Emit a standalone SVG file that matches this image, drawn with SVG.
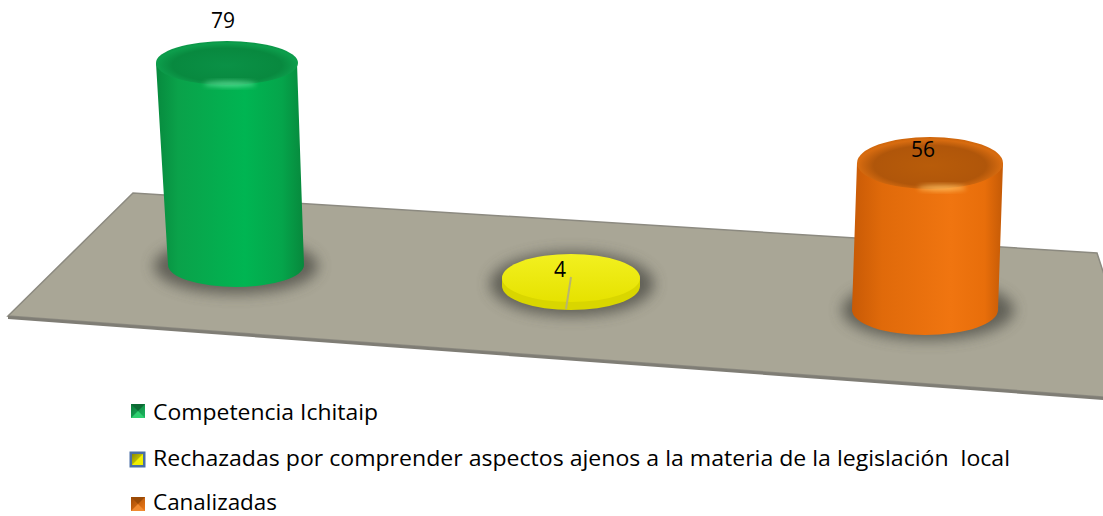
<svg xmlns="http://www.w3.org/2000/svg" width="1103" height="516" viewBox="0 0 1103 516">
<style>
.lbl{font-family:"Open Sans","Liberation Sans",sans-serif;font-size:21px;fill:#000}
.val{font-family:"Open Sans","Liberation Sans",sans-serif;font-size:21px;fill:#000;text-anchor:middle}
</style>
<defs>
<filter id="blur" x="-50%" y="-50%" width="200%" height="200%"><feGaussianBlur stdDeviation="7"/></filter>
<filter id="soft" x="-50%" y="-50%" width="200%" height="200%"><feGaussianBlur stdDeviation="2.5"/></filter>
<linearGradient id="gBody" x1="0" y1="0" x2="1" y2="0">
<stop offset="0" stop-color="#078a3e"/><stop offset="0.15" stop-color="#0aa24a"/><stop offset="0.6" stop-color="#00b552"/><stop offset="0.85" stop-color="#05a54b"/><stop offset="1" stop-color="#07883c"/>
</linearGradient>
<radialGradient id="gTop" cx="0.5" cy="0.55" r="0.55">
<stop offset="0" stop-color="#0a9146"/><stop offset="0.7" stop-color="#08893f"/><stop offset="0.9" stop-color="#0d9e4c"/><stop offset="1" stop-color="#0a9446"/>
</radialGradient>
<linearGradient id="oBody" x1="0" y1="0" x2="1" y2="0">
<stop offset="0" stop-color="#c85a06"/><stop offset="0.2" stop-color="#e06a0a"/><stop offset="0.65" stop-color="#f07510"/><stop offset="0.88" stop-color="#e86e0a"/><stop offset="1" stop-color="#c45a06"/>
</linearGradient>
<radialGradient id="oTop" cx="0.5" cy="0.55" r="0.55">
<stop offset="0" stop-color="#b85c0a"/><stop offset="0.7" stop-color="#b0560a"/><stop offset="0.9" stop-color="#d86c10"/><stop offset="1" stop-color="#cc640a"/>
</radialGradient>
<linearGradient id="yTop" x1="0" y1="0" x2="0" y2="1">
<stop offset="0" stop-color="#f2f020"/><stop offset="1" stop-color="#e6e200"/>
</linearGradient>
<linearGradient id="legG" x1="0" y1="0" x2="1" y2="1"><stop offset="0" stop-color="#0b7a3a"/><stop offset="1" stop-color="#1cb860"/></linearGradient>
<linearGradient id="legY" x1="0" y1="0" x2="1" y2="1"><stop offset="0" stop-color="#8a8a00"/><stop offset="1" stop-color="#f0f000"/></linearGradient>
<linearGradient id="legO" x1="0" y1="0" x2="1" y2="1"><stop offset="0" stop-color="#a04a05"/><stop offset="1" stop-color="#f07a18"/></linearGradient>
</defs>

<g id="floor">
<polygon points="8,316 133,193 1097,253 1145,400 8,316" fill="#a9a696" stroke="#8c8a80" stroke-width="1.5"/>
<polygon points="8,316 1145,400 1145,403 8,319" fill="#7f7d75"/>
</g>

<g id="shadows" filter="url(#blur)" fill="#4a4842" opacity="0.75">
<ellipse cx="236" cy="266" rx="82" ry="28"/>
<ellipse cx="572" cy="284" rx="82" ry="32"/>
<ellipse cx="928" cy="310" rx="86" ry="30"/>
</g>

<g id="bar-competencia">
<path d="M156,63 L168,265 A68,22 0 0 0 304,265 L297,63 Z" fill="url(#gBody)"/>
<ellipse cx="227" cy="63" rx="71" ry="22" fill="url(#gTop)"/>
<ellipse cx="230" cy="84" rx="26" ry="3" fill="#5fe39a" opacity="0.8" filter="url(#soft)"/>
<text class="val" x="223" y="28">79</text>
</g>

<g id="bar-rechazadas">
<path d="M502,278 L502,286 A69,24 0 0 0 640,286 L640,278 Z" fill="#d9d600"/>
<ellipse cx="571" cy="278" rx="69" ry="24" fill="url(#yTop)"/>
<path d="M571,277 L566,309" stroke="#b8b470" stroke-width="2"/>
<text class="val" x="560" y="277">4</text>
</g>

<g id="bar-canalizadas">
<path d="M857,163 L852,310 A73,25 0 0 0 998,310 L1003,163 Z" fill="url(#oBody)"/>
<ellipse cx="930" cy="163" rx="73" ry="26" fill="url(#oTop)"/>
<ellipse cx="942" cy="188" rx="24" ry="3" fill="#ffc060" opacity="0.85" filter="url(#soft)"/>
<text class="val" x="923" y="157">56</text>
</g>

<g id="legend">
<g id="leg-competencia">
<rect x="131" y="404" width="14" height="14" fill="url(#legG)"/>
<polygon points="131,404 145,404 138,411" fill="#0d6a34"/>
<polygon points="131,418 145,418 138,411" fill="#2fd070"/>
<text class="lbl" x="153" y="420" textLength="225" lengthAdjust="spacingAndGlyphs">Competencia Ichitaip</text>
</g>
<g id="leg-rechazadas">
<rect x="129.5" y="451.5" width="16" height="16" fill="#4a6fa5"/>
<rect x="132" y="454" width="11" height="11" fill="url(#legY)"/>
<polygon points="132,465 143,454 143,465" fill="#f0f000"/>
<text class="lbl" x="153" y="466" xml:space="preserve" textLength="857" lengthAdjust="spacingAndGlyphs">Rechazadas por comprender aspectos ajenos a la materia de la legislación  local</text>
</g>
<g id="leg-canalizadas">
<rect x="131" y="497" width="14" height="14" fill="url(#legO)"/>
<polygon points="131,497 145,497 138,504" fill="#9a4a06"/>
<polygon points="131,511 145,511 138,504" fill="#f08a30"/>
<text class="lbl" x="153" y="510" textLength="124" lengthAdjust="spacingAndGlyphs">Canalizadas</text>
</g>
</g>
</svg>
